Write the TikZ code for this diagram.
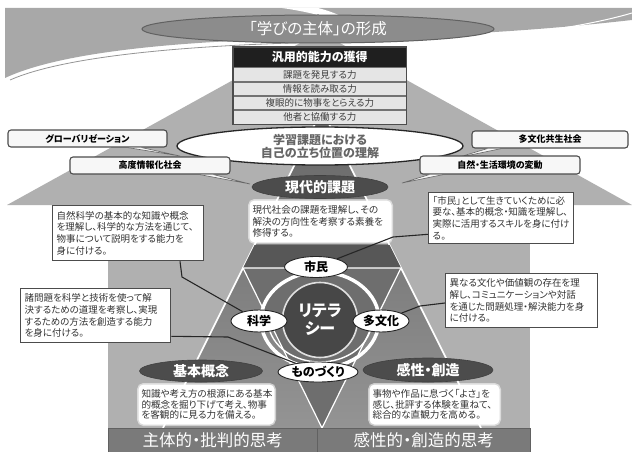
\documentclass[tikz,border=0pt]{standalone}
\usepackage{fontspec}
\setmainfont{Noto Sans CJK JP}[RawFeature=+palt]
\usetikzlibrary{shapes.geometric,calc}
\begin{document}
\begin{tikzpicture}[x=1pt,y=-1pt,
  lab/.style={ellipse, draw=black!85, fill=white, line width=0.9pt, inner sep=0pt, font=\bfseries\fontsize{12}{12}\selectfont},
  darkell/.style={ellipse, fill=black!70, draw=black!75, line width=0.6pt, text=white, inner sep=0pt, font=\bfseries\fontsize{14}{14}\selectfont},
  descbox/.style={draw=black!70, line width=1.3pt, fill=white, align=left, inner xsep=4pt, inner ysep=2pt, anchor=north west, text=black!80, font=\fontsize{9.5}{11.8}\selectfont},
  glowbox/.style={fill=white, draw=white, draw opacity=0.55, line width=3pt, rounded corners=5pt, align=left, inner xsep=3pt, inner ysep=2pt, anchor=north west, text=black!80, font=\fontsize{9.6}{11.5}\selectfont},
  callbox/.style={draw=black!70, line width=1.1pt, fill=black!3, rounded corners=3pt, inner sep=0pt, font=\bfseries\fontsize{9}{9}\selectfont},
  calltail/.style={fill=black!3, draw=black!60, line width=0.6pt},
  leader/.style={draw=black!85, line width=1.1pt},
  rowbox/.style={fill=black!10, draw=black!55, line width=0.7pt, text=black!75, minimum width=173pt, minimum height=13.5pt, inner sep=0pt, anchor=north west, font=\fontsize{9.5}{9.5}\selectfont},
  barbox/.style={fill=black!52, draw=black!62, line width=0.6pt, text=white, inner sep=0pt, minimum height=24pt, anchor=north west, font=\fontsize{16.5}{16.5}\selectfont}
]
\useasboundingbox (0,0) rectangle (632,452);
\fill[white] (0,0) rectangle (632,452);
% ribbon
\fill[black!34] (5,8) -- (632,8) -- (632,20) .. controls (560,28) and (470,36) .. (330,38) .. controls (180,40) and (60,52) .. (5,78) -- cycle;
\fill[white] (282,8) -- (318,8) .. controls (338,13) and (352,21) .. (362,30) .. controls (338,19) and (310,12) .. (282,8) -- cycle;
\draw[black!42, line width=0.8pt] (10,80) .. controls (62,57) and (180,45) .. (330,42);
\draw[white, line width=1pt] (460,40) .. controls (530,35) and (595,24) .. (632,13);
% house
\fill[black!31] (7,205) -- (320,32) -- (632,205) -- cycle;
\fill[black!31] (108,205) rectangle (530,452);
% big triangle
\coordinate (apex) at (322,110);
\coordinate (btl) at (163,428);
\coordinate (btr) at (481,428);
\shade[top color=black!60, bottom color=black!42] (apex) -- (btl) -- (btr) -- cycle;
\draw[white, line width=1.6pt] (btl) -- (apex) -- (btr);
% band and inverted triangle
\fill[black!66] (254.5,245) -- (389.5,245) -- (401,268) -- (243,268) -- cycle;
\filldraw[fill=black!57, draw=white, line width=1.2pt] (243,268) -- (401,268) -- (322,428) -- cycle;
% ring
\draw[white, line width=3.5pt] (320,320) ellipse [x radius=59pt, y radius=48pt];
\draw[white, line width=1.4pt] (320,320) ++(195:52pt and 42pt) arc[start angle=195, end angle=345, x radius=52pt, y radius=42pt];
% centre
\node[circle, fill=black!72, draw=black!12, line width=1.6pt, minimum size=75pt, inner sep=0pt, text=white, align=center, font=\bfseries\fontsize{16}{18}\selectfont] (lit) at (320,320) {リテラ\\シー};
% title
\node[ellipse, fill=black!45, draw=black!62, line width=1pt, minimum width=352pt, minimum height=28pt, inner sep=0pt, text=white, font=\fontsize{15.5}{15.5}\selectfont] (title) at (318,29) {「学びの主体」の形成};
% abilities box
\node[fill=black!88, text=white, minimum width=173pt, minimum height=20pt, inner sep=0pt, anchor=north west, font=\bfseries\fontsize{12}{12}\selectfont] (hdr) at (233,47) {汎用的能力の獲得};
\node[rowbox] (r1) at (hdr.south west) {課題を発見する力};
\node[rowbox] (r2) at (r1.south west) {情報を読み取る力};
\node[rowbox] (r3) at (r2.south west) {複眼的に物事をとらえる力};
\node[rowbox] (r4) at (r3.south west) {他者と協働する力};
\draw[black!70, line width=1.3pt] (hdr.north west) rectangle (r4.south east);
% oval
\node[ellipse, fill=white, draw=black!85, line width=1.3pt, minimum width=286pt, minimum height=38pt, inner sep=0pt, align=center, text=black!60, font=\bfseries\fontsize{12}{13}\selectfont] (oval) at (320,146) {学習課題における\\自己の立ち位置の理解};
% callouts
\node[callbox, minimum width=159pt, minimum height=17pt] (glob) at (87.5,138.5) {グローバリゼーション};
\coordinate (gt) at (180,156);
\filldraw[calltail] ($(glob.south west)+(120,0)$) -- (gt) -- ($(glob.south west)+(134,0)$);
\node[callbox, minimum width=160pt, minimum height=17pt] (koudo) at (150,165.5) {高度情報化社会};
\coordinate (kt) at (250,184);
\filldraw[calltail] ($(koudo.south west)+(130,0)$) -- (kt) -- ($(koudo.south west)+(144,0)$);
\node[callbox, minimum width=156pt, minimum height=17pt] (tabun) at (550,139.5) {多文化共生社会};
\coordinate (tt) at (456,158);
\filldraw[calltail] ($(tabun.south west)+(16,0)$) -- (tt) -- ($(tabun.south west)+(30,0)$);
\node[callbox, minimum width=160pt, minimum height=18pt] (shizen) at (500,165) {自然・生活環境の変動};
\coordinate (st) at (402,183);
\filldraw[calltail] ($(shizen.south west)+(10,0)$) -- (st) -- ($(shizen.south west)+(24,0)$);
% gendai
\node[darkell, minimum width=136pt, minimum height=23pt] (gendai) at (320,187) {現代的課題};
\node[glowbox, text width=136pt, minimum height=42pt] (gtext) at (248,199) {現代社会の課題を理解し、その\\解決の方向性を考察する素養を\\修得する。};
% small ellipses
\node[lab, minimum width=63pt, minimum height=21pt] (shimin) at (316,267) {市民};
\node[lab, minimum width=56pt, minimum height=22pt] (kagaku) at (259,321) {科学};
\node[lab, minimum width=56pt, minimum height=22pt] (tabunka) at (381,321) {多文化};
\node[lab, minimum width=80pt, minimum height=20pt] (mono) at (318,372) {ものづくり};
% description boxes
\node[descbox, text width=143pt, minimum height=55pt] (b1) at (52,205) {自然科学の基本的な知識や概念\\を理解し、科学的な方法を通じて、\\物事について説明をする能力を\\身に付ける。};
\node[descbox, text width=142pt, minimum height=54pt] (b2) at (20,288) {諸問題を科学と技術を使って解\\決するための道理を考察し、実現\\するための方法を創造する能力\\を身に付ける。};
\node[descbox, text width=137pt, minimum height=51pt] (b3) at (428,192) {「市民」として生きていくために必\\要な、基本的概念・知識を理解し、\\実際に活用するスキルを身に付け\\る。};
\node[descbox, text width=144pt, minimum height=54pt] (b4) at (445,273) {異なる文化や価値観の存在を理\\解し、コミュニケーションや対話\\を通じた問題処理・解決能力を身\\に付ける。};
% leaders
\coordinate (k1) at (182,277);
\draw[leader] ($(b1.south west)+(128,0)$) -- (k1) -- (kagaku);
\coordinate (k2) at (228,337);
\draw[leader] ($(b2.south east)+(0,-7)$) -- (k2) -- (mono);
\coordinate (k3) at (393,237);
\draw[leader] ($(b3.south west)+(0,-10)$) -- (k3) -- (shimin);
\coordinate (k4) at (420,306);
\draw[leader] ($(b4.north west)+(0,30)$) -- (k4) -- (tabunka);
% lower ellipses
\node[darkell, minimum width=123pt, minimum height=22pt] (kihon) at (201,371) {基本概念};
\node[glowbox, text width=130pt, minimum height=40pt, font=\fontsize{9.6}{10.5}\selectfont] (ktext) at (137,383) {知識や考え方の根源にある基本\\的概念を掘り下げて考え、物事\\を客観的に見る力を備える。};
\node[darkell, minimum width=130pt, minimum height=24pt] (kansei) at (428,370) {感性・創造};
\node[glowbox, text width=124pt, minimum height=40pt, font=\fontsize{9.6}{10.5}\selectfont] (stext) at (368,383) {事物や作品に息づく「よさ」を\\感じ、批評する体験を重ねて、\\総合的な直観力を高める。};
% bottom bars
\node[barbox, minimum width=209pt] (barL) at (108,428) {主体的・批判的思考};
\node[barbox, minimum width=213pt] (barR) at (317,428) {感性的・創造的思考};
\end{tikzpicture}
\end{document}
